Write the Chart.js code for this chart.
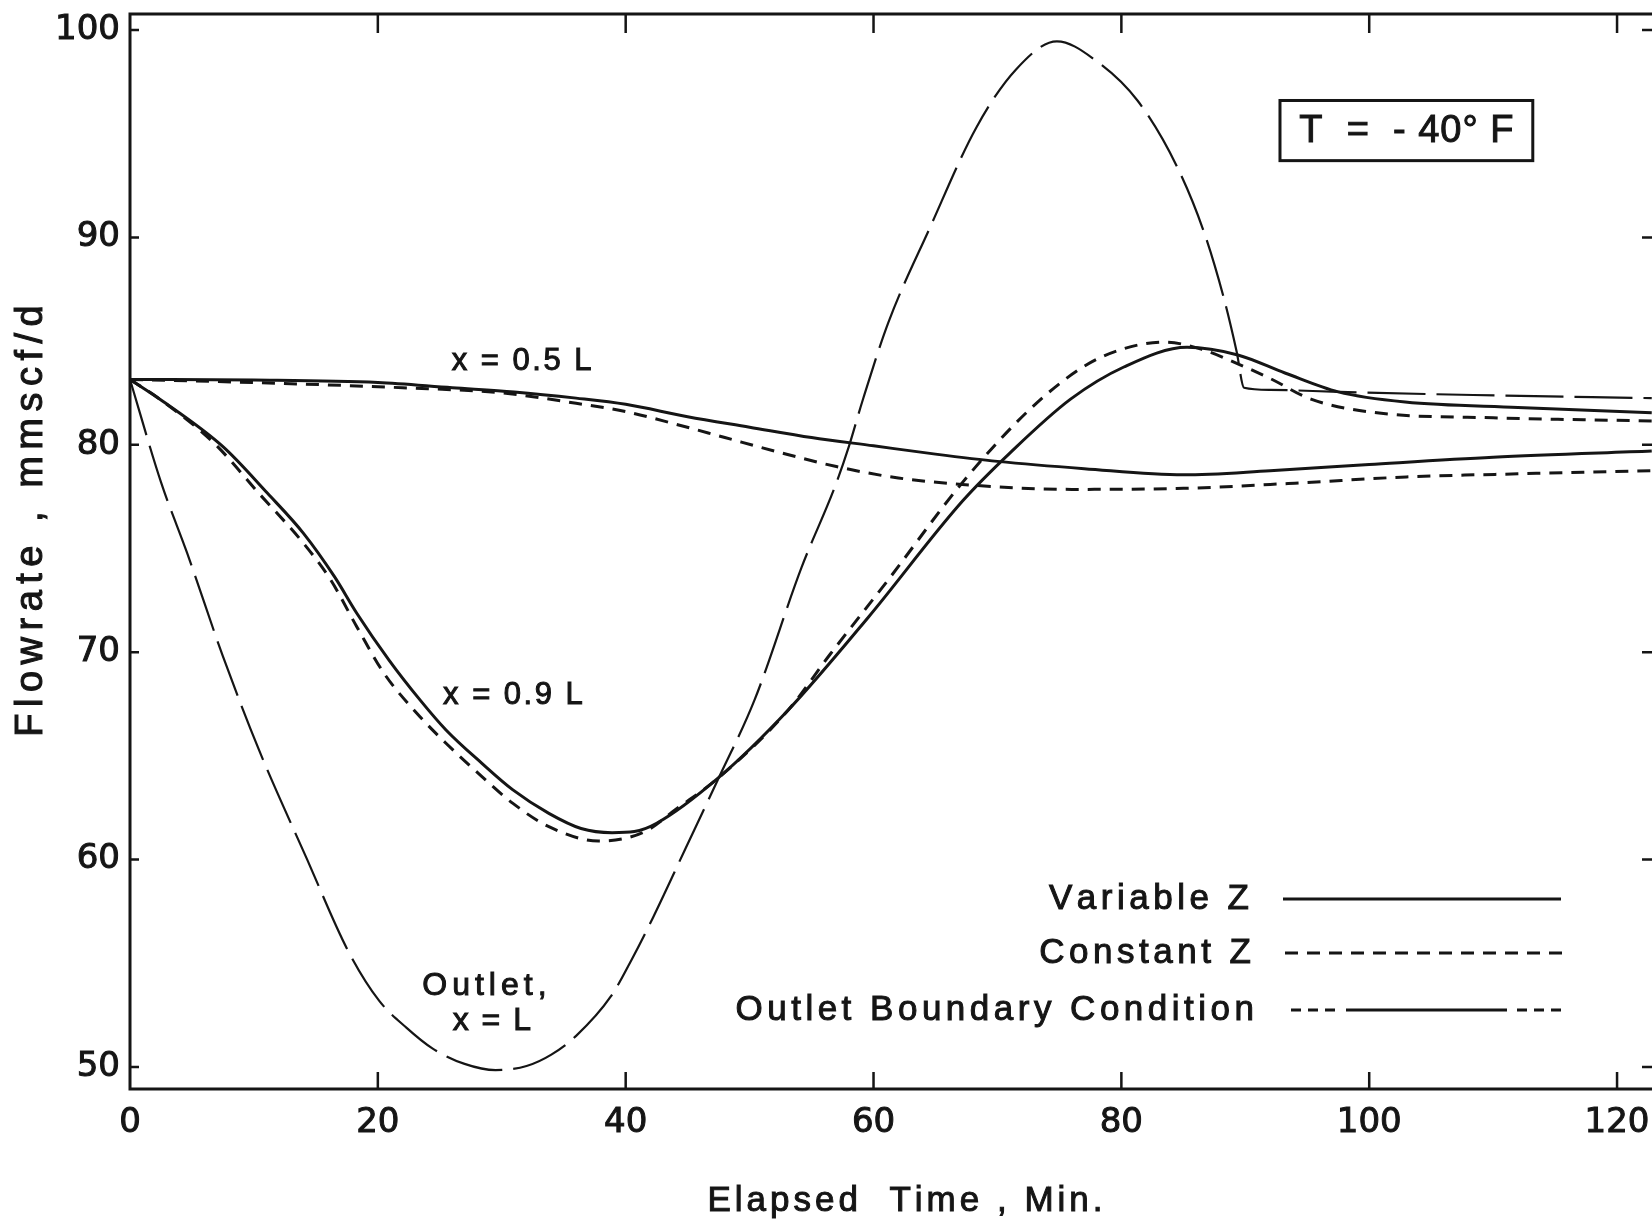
<!DOCTYPE html>
<html>
<head>
<meta charset="utf-8">
<script src="https://cdn.jsdelivr.net/npm/chart.js@4.4.1/dist/chart.umd.min.js"></script>
<style>
  html, body { margin: 0; padding: 0; background: #fff; overflow: hidden; }
  canvas { display: block; }
</style>
</head>
<body>
<canvas id="flowChart" width="1652" height="1225"></canvas>
<script>
// Flowrate vs elapsed time, T = -40 F
const xTicks = [0, 20, 40, 60, 80, 100, 120];
const yTicks = [50, 60, 70, 80, 90, 100];

// x = 0.5 L
const halfVarTime = [0, 10, 20, 26, 31, 36, 40, 45, 50, 55, 60, 65, 70, 77, 85, 92, 100, 110, 122.8];
const halfVarFlow = [83.15, 83.12, 83.0, 82.75, 82.55, 82.25, 81.95, 81.35, 80.85, 80.35, 79.95, 79.55, 79.2, 78.85, 78.55, 78.75, 79.05, 79.4, 79.7];
const halfConstTime = [0, 10, 22, 30, 36, 40, 44, 48, 52, 57, 62, 68, 76, 85, 94, 103, 112, 122.8];
const halfConstFlow = [83.15, 83.0, 82.75, 82.5, 82.0, 81.6, 81.0, 80.35, 79.7, 78.95, 78.4, 78.05, 77.85, 77.9, 78.15, 78.45, 78.6, 78.75];

// x = 0.9 L
const ninthVarTime = [0, 2.5, 7.5, 11.1, 14.0, 16.5, 18.3, 20.9, 23.4, 25.5, 28.4, 30.9, 33.8, 36.4, 38.9, 40.7, 42.5, 47.4, 53.1, 59.6, 67.2, 71.0, 75.9, 80.2, 85.3, 89.4, 93.2, 97.5, 102.9, 112, 122.8];
const ninthVarFlow = [83.15, 82.16, 79.91, 77.66, 75.73, 73.64, 71.88, 69.62, 67.7, 66.25, 64.64, 63.36, 62.23, 61.5, 61.3, 61.35, 61.75, 63.9, 67.2, 71.7, 77.3, 79.6, 82.2, 83.75, 84.7, 84.33, 83.46, 82.55, 82.06, 81.8, 81.55];
const ninthConstTime = [0, 2.5, 6.8, 10.4, 14.0, 16.2, 18.3, 20.5, 23.4, 25.5, 28.4, 30.9, 33.8, 37.8, 40.0, 41.8, 44, 47.4, 53.1, 56.5, 61.2, 67.2, 72.6, 76.9, 80, 83.5, 86.5, 89.4, 92, 95.3, 100.8, 110, 122.8];
const ninthConstFlow = [83.15, 82.16, 80.07, 77.66, 75.25, 73.48, 71.23, 68.98, 66.89, 65.61, 64.0, 62.71, 61.59, 60.9, 61.03, 61.43, 62.4, 63.9, 67.2, 69.9, 73.5, 78.2, 81.7, 83.75, 84.6, 84.95, 84.6, 83.9, 83.2, 82.2, 81.53, 81.3, 81.15];

// Outlet, x = L (boundary condition)
const outletTime = [0, 2.5, 4.6, 7.5, 10.4, 14.3, 17.6, 20.1, 22.3, 24.4, 27, 29.5, 32, 34, 36, 38.8, 40.5, 42.2, 44.8, 47.4, 50.4, 54.2, 56.9, 58, 59.1, 61.2, 64.5, 68.3, 71.5, 74.8, 78, 81.3, 84.5, 86.7, 88.3, 89.3, 89.9, 92, 97.5, 108.4, 122.8];
const outletFlow = [83.15, 78.2, 74.8, 69.8, 65.3, 60.0, 55.6, 53.2, 51.9, 50.9, 50.15, 49.85, 50.05, 50.6, 51.5, 53.4, 55.2, 57.2, 60.5, 63.8, 67.7, 74.1, 78.0, 79.9, 82.1, 85.9, 90.4, 95.3, 98.1, 99.45, 98.5, 96.6, 93.4, 90.2, 87.0, 84.5, 82.75, 82.65, 82.55, 82.4, 82.25];

const legendLabels = ['Variable Z', 'Constant Z', 'Outlet Boundary Condition'];

const INK = '#151515';
const FONT = "'Liberation Sans', Arial, sans-serif";
const TICK_FONT = "'DejaVu Sans', 'Liberation Sans', sans-serif";

function points(xs, ys) {
    return xs.map((x, i) => ({ x: x, y: ys[i] }));
}

// draws text one glyph at a time so the lettering can be spread out
function spacedText(ctx, text, x, y, spacing, align) {
    const chars = [...text];
    const widths = chars.map(c => ctx.measureText(c).width);
    const total = widths.reduce((s, w) => s + w, 0) + spacing * (chars.length - 1);
    let cx = x;
    if (align === 'right') cx = x - total;
    if (align === 'center') cx = x - total / 2;
    ctx.textAlign = 'left';
    chars.forEach((c, i) => {
        ctx.fillText(c, cx, y);
        ctx.strokeText(c, cx, y);
        cx += widths[i] + spacing;
    });
}

const decorPlugin = {
    id: 'decor',
    afterDraw(chart) {
        const { ctx, chartArea: a, scales: { x, y } } = chart;
        ctx.save();
        ctx.strokeStyle = INK;
        ctx.fillStyle = INK;
        ctx.setLineDash([]);

        // frame (left, top, bottom)
        ctx.lineWidth = 3;
        ctx.beginPath();
        ctx.moveTo(a.right, a.top);
        ctx.lineTo(a.left, a.top);
        ctx.lineTo(a.left, a.bottom);
        ctx.lineTo(a.right, a.bottom);
        ctx.stroke();

        // inward ticks
        ctx.lineWidth = 2.5;
        ctx.beginPath();
        xTicks.forEach(v => {
            if (v === 0) return;
            const px = x.getPixelForValue(v);
            ctx.moveTo(px, a.bottom);
            ctx.lineTo(px, a.bottom - 17);
            ctx.moveTo(px, a.top);
            ctx.lineTo(px, a.top + 19);
        });
        yTicks.forEach(v => {
            const py = y.getPixelForValue(v);
            ctx.moveTo(a.left, py);
            ctx.lineTo(a.left + 9, py);
            ctx.moveTo(a.right - 10, py);
            ctx.lineTo(a.right, py);
        });
        ctx.stroke();

        // box
        const bx0 = x.getPixelForValue(92.8), bx1 = x.getPixelForValue(113.2);
        const by0 = y.getPixelForValue(96.6), by1 = y.getPixelForValue(93.7);
        ctx.lineWidth = 3;
        ctx.strokeRect(bx0, by0, bx1 - bx0, by1 - by0);

        // legend samples
        const rowY = [899, 953, 1010];
        ctx.lineWidth = 3;
        ctx.beginPath();
        ctx.moveTo(1283, rowY[0]);
        ctx.lineTo(1561, rowY[0]);
        ctx.stroke();
        ctx.setLineDash([13, 9]);
        ctx.beginPath();
        ctx.moveTo(1285, rowY[1]);
        ctx.lineTo(1563, rowY[1]);
        ctx.stroke();
        ctx.setLineDash([10, 7]);
        ctx.beginPath();
        ctx.moveTo(1291, rowY[2]);
        ctx.lineTo(1340, rowY[2]);
        ctx.moveTo(1517, rowY[2]);
        ctx.lineTo(1568, rowY[2]);
        ctx.stroke();
        ctx.setLineDash([]);
        ctx.beginPath();
        ctx.moveTo(1346, rowY[2]);
        ctx.lineTo(1507, rowY[2]);
        ctx.stroke();

        // texts
        ctx.lineWidth = 1;
        ctx.textBaseline = 'middle';

        ctx.font = '35px ' + FONT;
        spacedText(ctx, 'Elapsed  Time , Min.', 905, 1201, 4, 'center');
        ctx.save();
        ctx.translate(32, 521);
        ctx.rotate(-Math.PI / 2);
        ctx.font = '38px ' + FONT;
        spacedText(ctx, 'Flowrate , mmscf/d', 0, 0, 6.5, 'center');
        ctx.restore();

        // curve labels
        ctx.font = '31px ' + FONT;
        spacedText(ctx, 'x = 0.5 L', x.getPixelForValue(31.6), y.getPixelForValue(84.0), 2.5, 'center');
        spacedText(ctx, 'x = 0.9 L', x.getPixelForValue(30.9), y.getPixelForValue(67.9), 2.5, 'center');
        ctx.font = '32px ' + FONT;
        spacedText(ctx, 'Outlet,', x.getPixelForValue(28.6), y.getPixelForValue(53.9), 5, 'center');
        spacedText(ctx, 'x = L', x.getPixelForValue(29.2), y.getPixelForValue(52.2), 2, 'center');

        ctx.font = '38px ' + FONT;
        spacedText(ctx, 'T  =  - 40\u00B0 F', (bx0 + bx1) / 2, (by0 + by1) / 2 + 1, 1, 'center');

        const textRight = [1249, 1251, 1254];
        ctx.font = '35px ' + FONT;
        legendLabels.forEach((label, i) => {
            spacedText(ctx, label, textRight[i], rowY[i], 4.5, 'right');
        });

        ctx.restore();
    }
};

function series(label, xs, ys, width, dash) {
    return {
        label: label,
        data: points(xs, ys),
        borderColor: INK,
        borderWidth: width,
        borderDash: dash,
        pointRadius: 0,
        fill: false,
        showLine: true,
        cubicInterpolationMode: 'monotone'
    };
}

new Chart(document.getElementById('flowChart'), {
    type: 'scatter',
    data: {
        datasets: [
            series('x=0.5L Variable Z', halfVarTime, halfVarFlow, 3, []),
            series('x=0.5L Constant Z', halfConstTime, halfConstFlow, 3, [13, 9]),
            series('x=0.9L Variable Z', ninthVarTime, ninthVarFlow, 3, []),
            series('x=0.9L Constant Z', ninthConstTime, ninthConstFlow, 3, [13, 9]),
            series('Outlet Boundary Condition', outletTime, outletFlow, 2.2, [58, 11])
        ]
    },
    options: {
        responsive: false,
        animation: false,
        devicePixelRatio: 1,
        layout: { padding: { top: 14, right: 0, left: 0, bottom: 0 } },
        plugins: {
            legend: { display: false },
            tooltip: { enabled: false }
        },
        scales: {
            x: {
                type: 'linear',
                min: 0,
                max: 122.82,
                grid: { display: false, drawTicks: false },
                border: { display: false },
                afterFit: s => {
                    s.height = 136;
                    s.paddingLeft = 0;
                    s.paddingRight = 0;
                },
                afterBuildTicks: s => { s.ticks = xTicks.map(v => ({ value: v })); },
                ticks: {
                    color: INK,
                    padding: 14,
                    maxRotation: 0,
                    textStrokeColor: INK,
                    textStrokeWidth: 1,
                    font: { family: TICK_FONT, size: 34 }
                }
            },
            y: {
                type: 'linear',
                min: 48.94,
                max: 100.77,
                grid: { display: false, drawTicks: false },
                border: { display: false },
                afterFit: s => {
                    s.width = 130;
                    s.paddingTop = 0;
                    s.paddingBottom = 0;
                },
                afterBuildTicks: s => { s.ticks = yTicks.map(v => ({ value: v })); },
                ticks: {
                    color: INK,
                    padding: 10,
                    textStrokeColor: INK,
                    textStrokeWidth: 1,
                    font: { family: TICK_FONT, size: 34 }
                }
            }
        }
    },
    plugins: [decorPlugin]
});
</script>
</body>
</html>
